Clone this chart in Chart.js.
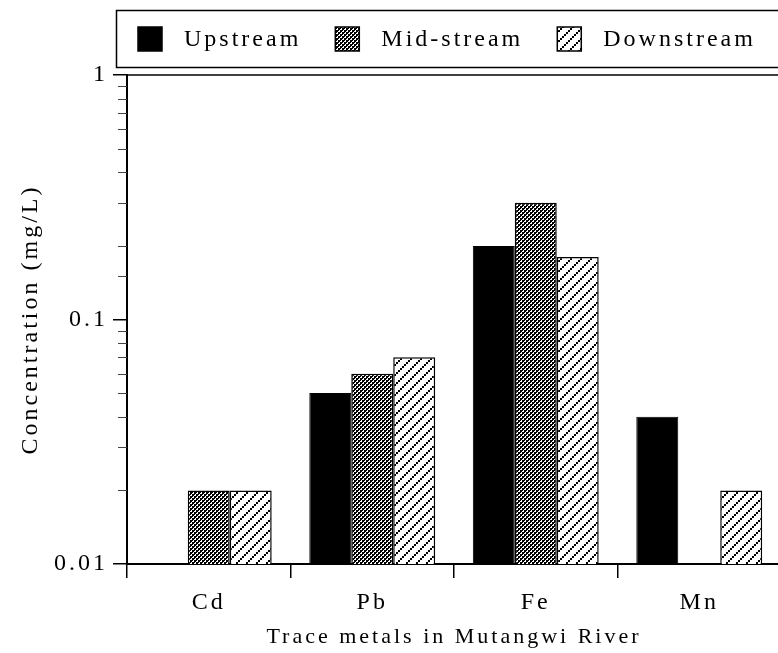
<!DOCTYPE html>
<html><head><meta charset="utf-8">
<script src="https://cdn.jsdelivr.net/npm/chart.js@4"></script>
<style>html,body{margin:0;padding:0;background:#fff;overflow:hidden}canvas{display:block}</style>
</head><body>
<canvas id="c" width="781" height="653"></canvas>
<script>
const categories = ['Cd', 'Pb', 'Fe', 'Mn'];
const seriesNames = ['Upstream', 'Mid-stream', 'Downstream'];
const upstream = [null, 0.05, 0.2, 0.04];
const midstream = [0.02, 0.06, 0.3, null];
const downstream = [0.02, 0.07, 0.18, 0.02];
const yTickLabels = ['0.01', '0.1', '1'];
const xTitle = 'Trace metals in Mutangwi River';
const yTitle = 'Concentration (mg/L)';

const FONT = "'Liberation Serif', 'Times New Roman', serif";
const SPACING = '3px';

function isDecade(v) {
  const l = Math.log10(v);
  return Math.abs(l - Math.round(l)) < 1e-9;
}

function makeMidPattern() {
  const c = document.createElement('canvas'); c.width = 4; c.height = 4;
  const g = c.getContext('2d');
  g.fillStyle = '#000'; g.fillRect(0, 0, 4, 4);
  g.fillStyle = '#fff';
  g.fillRect(1, 0, 1, 1); g.fillRect(0, 1, 2, 1);
  g.fillRect(3, 2, 1, 1); g.fillRect(2, 3, 2, 1);
  return g.createPattern(c, 'repeat');
}
function makeDownPattern() {
  const c = document.createElement('canvas'); c.width = 10; c.height = 10;
  const g = c.getContext('2d');
  g.fillStyle = '#fff'; g.fillRect(0, 0, 10, 10);
  g.fillStyle = '#000';
  for (let k = 0; k < 5; k++) g.fillRect(8 - 2 * k, 2 * k, 2, 2);
  return g.createPattern(c, 'repeat');
}

const framePlugin = {
  id: 'frame',
  beforeLayout(chart) { chart.ctx.letterSpacing = SPACING; },
  beforeDraw(chart) {
    const ctx = chart.ctx;
    ctx.save(); ctx.fillStyle = '#fff'; ctx.fillRect(0, 0, chart.width, chart.height); ctx.restore();
    ctx.letterSpacing = SPACING;
  },
  afterDraw(chart) {
    const { ctx, chartArea: a, scales: { y } } = chart;
    ctx.save();
    ctx.strokeStyle = '#000'; ctx.lineWidth = 1.5;
    ctx.beginPath(); ctx.moveTo(a.left, a.top); ctx.lineTo(a.right + 10, a.top); ctx.stroke();
    ctx.strokeStyle = '#444'; ctx.lineWidth = 1;
    y.ticks.forEach(t => {
      if (!isDecade(t.value)) {
        const py = Math.round(y.getPixelForValue(t.value)) + 0.5;
        ctx.beginPath(); ctx.moveTo(a.left - 9, py); ctx.lineTo(a.left, py); ctx.stroke();
      }
    });
    // legend
    ctx.letterSpacing = SPACING;
    ctx.strokeStyle = '#000'; ctx.lineWidth = 1.5;
    ctx.strokeRect(116.5, 10.5, 700, 57);
    ctx.font = '24px ' + FONT;
    ctx.textBaseline = 'middle'; ctx.textAlign = 'left';
    let x = 138;
    chart.data.datasets.forEach(ds => {
      ctx.fillStyle = ds.backgroundColor; ctx.fillRect(x, 27, 24, 24);
      ctx.strokeStyle = '#000'; ctx.lineWidth = 1.5; ctx.strokeRect(x, 27, 24, 24);
      ctx.fillStyle = '#000'; ctx.fillText(ds.label, x + 46, 40);
      x += 46 + ctx.measureText(ds.label).width + 34;
    });
    ctx.restore();
  }
};

const font24 = { family: FONT, size: 24 };

new Chart(document.getElementById('c'), {
  type: 'bar',
  data: {
    labels: categories,
    datasets: [
      { label: seriesNames[0], data: upstream, backgroundColor: '#000', borderColor: '#000', borderWidth: 1 },
      { label: seriesNames[1], data: midstream, backgroundColor: makeMidPattern(), borderColor: '#000', borderWidth: 1.5 },
      { label: seriesNames[2], data: downstream, backgroundColor: makeDownPattern(), borderColor: '#000', borderWidth: 1.5 }
    ]
  },
  options: {
    responsive: false,
    animation: false,
    events: [],
    categoryPercentage: 0.77,
    barPercentage: 1.0,
    layout: { padding: { top: 75, left: 0, right: 0, bottom: 0 } },
    plugins: { legend: { display: false }, tooltip: { enabled: false } },
    scales: {
      x: {
        type: 'category', offset: true,
        grid: { offset: true, drawOnChartArea: false, drawTicks: true, tickLength: 14, color: '#000', lineWidth: 1.5 },
        border: { display: true, color: '#000', width: 2 },
        ticks: { font: font24, color: '#000', padding: 10 },
        title: { display: true, text: xTitle, font: { family: FONT, size: 22 }, color: '#000', padding: { top: 0, bottom: 3 } },
        afterFit(s) { s.height = 89; }
      },
      y: {
        type: 'logarithmic', min: 0.01, max: 1,
        grid: { drawOnChartArea: false, drawTicks: true, tickLength: 14,
          color: c => (c.tick && isDecade(c.tick.value)) ? '#000' : 'rgba(0,0,0,0)', lineWidth: 1.5 },
        border: { display: true, color: '#000', width: 2 },
        ticks: { font: font24, color: '#000', padding: 5, autoSkip: false,
          callback: v => isDecade(v) ? yTickLabels[Math.round(Math.log10(v)) + 2] : '' },
        title: { display: true, text: yTitle, font: font24, color: '#000', padding: { top: 16, bottom: 0 } },
        afterFit(s) { s.width = 127; }
      }
    }
  },
  plugins: [framePlugin]
});
</script>
</body></html>
